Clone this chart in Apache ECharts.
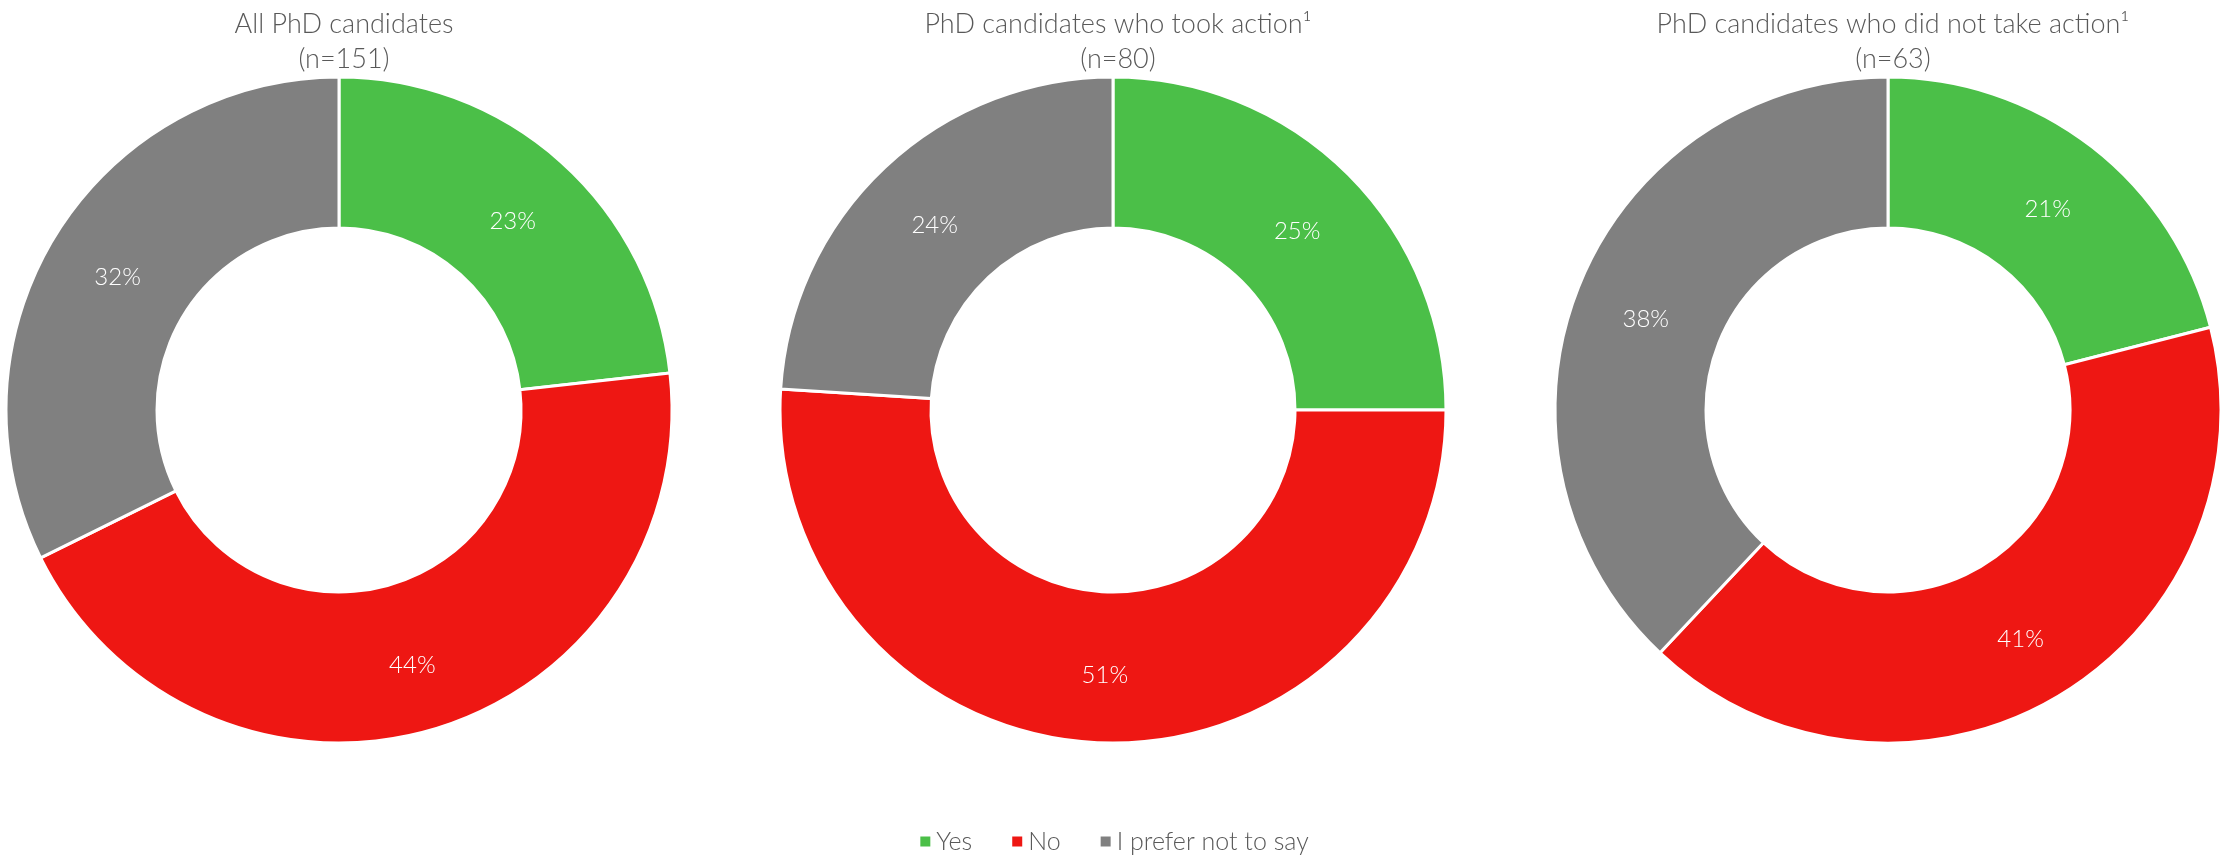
<!DOCTYPE html>
<html>
<head>
<meta charset="utf-8">
<script src="https://cdn.jsdelivr.net/npm/echarts@6/dist/echarts.min.js"></script>
<style>
html,body{margin:0;padding:0;background:#fff;}
#chart{width:2227px;height:865px;}
</style>
</head>
<body>
<div id="chart"></div>
<script>
const categories = ['Yes', 'No', 'I prefer not to say'];
const colors = ['#4BBF48', '#EE1713', '#808080'];
const titles = [
  'All PhD candidates\n(n=151)',
  'PhD candidates who took action\u00B9\n(n=80)',
  'PhD candidates who did not take action\u00B9\n(n=63)'
];
const allValues = [23, 44, 32];
const tookActionValues = [25, 51, 24];
const noActionValues = [21, 41, 38];
const groups = [allValues, tookActionValues, noActionValues];
const centersX = [339, 1113, 1888];
const centerY = 410;

const chart = echarts.init(document.getElementById('chart'));
const fontFamily = 'Lato, "Open Sans", sans-serif';

const option = {
  animation: false,
  color: colors,
  title: titles.map((t, i) => ({
    text: t,
    left: centersX[i],
    top: 2,
    textAlign: 'center',
    textStyle: {
      color: '#595959',
      fontSize: 27,
      fontWeight: 300,
      fontFamily: fontFamily,
      lineHeight: 35
    }
  })),
  legend: {
    data: categories,
    bottom: 6,
    left: 'center',
    icon: 'rect',
    itemWidth: 12,
    itemHeight: 12,
    itemGap: 38,
    textStyle: {
      color: '#595959',
      fontSize: 25,
      fontWeight: 300,
      fontFamily: fontFamily
    }
  },
  series: groups.map((vals, i) => ({
    type: 'pie',
    center: [centersX[i], centerY],
    radius: [182, 333],
    startAngle: 90,
    clockwise: true,
    avoidLabelOverlap: false,
    emphasis: { disabled: true },
    itemStyle: { borderColor: '#ffffff', borderWidth: 3 },
    label: {
      show: true,
      position: 'inside',
      formatter: '{c}%',
      color: '#ffffff',
      fontSize: 24,
      fontWeight: 300,
      fontFamily: fontFamily,
      offset: [0, 5]
    },
    labelLine: { show: false },
    data: categories.map((c, j) => ({ name: c, value: vals[j] }))
  }))
};
chart.setOption(option);
</script>
</body>
</html>
